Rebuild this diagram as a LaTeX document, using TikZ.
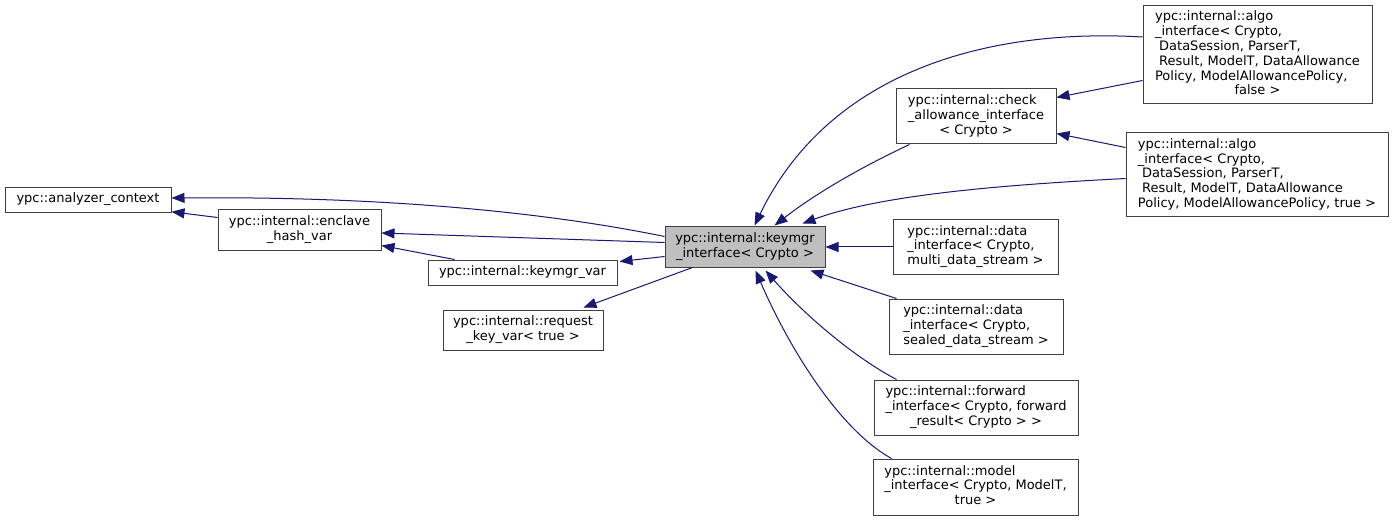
\documentclass[tikz,border=0pt]{standalone}
\usepackage{fontspec}
\setmainfont{DejaVu Sans}
\usetikzlibrary{arrows.meta,calc}
\definecolor{edgecol}{HTML}{191970}
\definecolor{bordercol}{HTML}{404040}
\definecolor{hlfill}{HTML}{BFBFBF}
\newcommand\clslines[1]{\begin{tabular}{@{}l@{}}#1\end{tabular}}
\newcommand\lastline[1]{\multicolumn{1}{@{}c@{}}{#1}}
\begin{document}
\begin{tikzpicture}[x=1pt,y=-1pt,
  cls/.style={draw=bordercol, line width=1pt, fill=white, inner sep=0pt,
    font=\fontsize{13pt}{14.8pt}\selectfont},
  edge/.style={draw=edgecol, line width=1pt, -{Triangle[length=13pt,width=10pt]}, fill=none},
]
\useasboundingbox (0,0) rectangle (1396,521);
\fill[white] (0,0) rectangle (1396,521);

% nodes
\node[cls, minimum width=166, minimum height=24.5] (ac) at (88,200) {\clslines{ypc::analyzer\_context}};
\node[cls, minimum width=163, minimum height=40] (ehv) at (299.5,230) {\clslines{ypc::internal::enclave\\\lastline{\_hash\_var}}};
\node[cls, minimum width=189, minimum height=25] (kv) at (522.5,272.5) {\clslines{ypc::internal::keymgr\_var}};
\node[cls, minimum width=160, minimum height=40] (rkv) at (523,330) {\clslines{ypc::internal::request\\\lastline{\_key\_var< true >}}};
\node[cls, fill=hlfill, minimum width=160, minimum height=40] (kmi) at (745,247) {\clslines{ypc::internal::keymgr\\\lastline{\_interface< Crypto >}}};
\node[cls, minimum width=160, minimum height=55] (ca) at (976,116.5) {\clslines{ypc::internal::check\\\_allowance\_interface\\\lastline{< Crypto >}}};
\node[cls, minimum width=229, minimum height=98] (af) at (1257.5,55) {\clslines{ypc::internal::algo\\\_interface< Crypto,\\\ DataSession, ParserT,\\\ Result, ModelT, DataAllowance\\Policy, ModelAllowancePolicy,\\\lastline{false >}}};
\node[cls, minimum width=262, minimum height=84] (at) at (1257,175) {\clslines{ypc::internal::algo\\\_interface< Crypto,\\\ DataSession, ParserT,\\\ Result, ModelT, DataAllowance\\\lastline{Policy, ModelAllowancePolicy, true >}}};
\node[cls, minimum width=165, minimum height=54] (dm) at (975.5,247) {\clslines{ypc::internal::data\\\_interface< Crypto,\\\lastline{multi\_data\_stream >}}};
\node[cls, minimum width=174, minimum height=55] (ds) at (976,326.5) {\clslines{ypc::internal::data\\\_interface< Crypto,\\\lastline{sealed\_data\_stream >}}};
\node[cls, minimum width=204, minimum height=55] (fw) at (976,407.5) {\clslines{ypc::internal::forward\\\_interface< Crypto, forward\\\lastline{\_result< Crypto > >}}};
\node[cls, minimum width=205, minimum height=56] (mo) at (975.5,487) {\clslines{ypc::internal::model\\\_interface< Crypto, ModelT,\\\lastline{true >}}};

% edges (arrow at base class)
\draw[edge] ($(kmi.north west)+(0,10)$) .. controls (560,215) and (400,196) .. ($(ac.east)+(0,-2)$);
\draw[edge] ($(ehv.north west)+(0,8)$) -- ($(ac.south east)+(0,-1)$);
\draw[edge] ($(kmi.north west)+(0,16)$) -- ($(ehv.east)+(0,3)$);
\draw[edge] ($(kv.north west)+(27,0)$) -- ($(ehv.south east)+(0,-5)$);
\draw[edge] ($(kmi.south west)+(0,-11)$) -- ($(kv.north east)+(2,2)$);
\draw[edge] ($(kmi.south west)+(28,0)$) -- ($(rkv.north east)+(-20,-2)$);
\draw[edge] ($(af.west)+(0,-18)$) .. controls (990,28) and (830,70) .. ($(kmi.north west)+(90,-1)$);
\draw[edge] ($(ca.south west)+(14,0)$) .. controls (870,163) and (820,190) .. ($(kmi.north west)+(110,-1)$);
\draw[edge] ($(af.south west)+(0,-24)$) -- ($(ca.north east)+(0,9)$);
\draw[edge] ($(at.north west)+(0,15)$) -- ($(ca.south east)+(0,-11)$);
\draw[edge] ($(at.north west)+(0,46)$) .. controls (1000,185) and (880,195) .. ($(kmi.north west)+(138,-3)$);
\draw[edge] (dm.west) -- (kmi.east);
\draw[edge] ($(ds.north west)+(8,0)$) -- ($(kmi.south east)+(-15,3)$);
\draw[edge] ($(fw.north west)+(23,0)$) .. controls (850,355) and (800,310) .. ($(kmi.south west)+(101,3)$);
\draw[edge] ($(mo.north west)+(19,0)$) .. controls (840,430) and (790,350) .. ($(kmi.south west)+(91,3)$);
\end{tikzpicture}
\end{document}
